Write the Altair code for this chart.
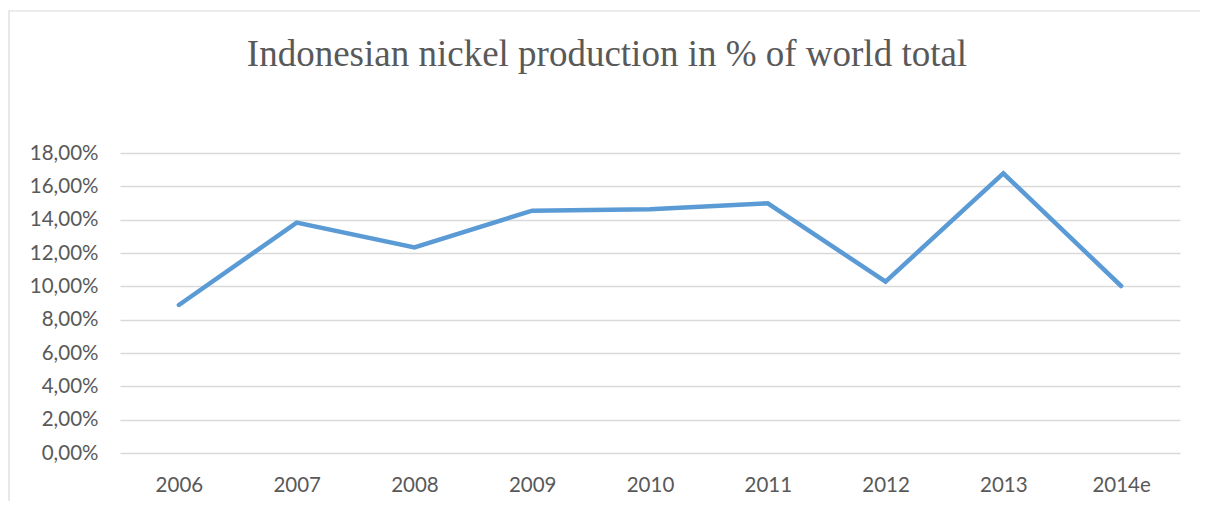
import altair as alt
import pandas as pd

years = ["2006", "2007", "2008", "2009", "2010", "2011", "2012", "2013", "2014e"]
shares = [0.0888, 0.1382, 0.1234, 0.1454, 0.1462, 0.1498, 0.1028, 0.1678, 0.1002]
y_ticks = [0, 0.02, 0.04, 0.06, 0.08, 0.10, 0.12, 0.14, 0.16, 0.18]

df = pd.DataFrame({"year": years, "share": shares})

line = alt.Chart(df).mark_line(
    color="#5b9bd5", strokeWidth=4.5, strokeCap="round", strokeJoin="miter"
).encode(
    x=alt.X("year:N", sort=years, title=None,
            scale=alt.Scale(type="point", padding=0.5),
            axis=alt.Axis(labelAngle=0, grid=False, domain=False, ticks=False,
                          labelPadding=22, labelFont="Lato", labelFontSize=20.5,
                          labelColor="#595959")),
    y=alt.Y("share:Q", title=None,
            scale=alt.Scale(domain=[0, 0.18], nice=False),
            axis=alt.Axis(values=y_ticks, domain=False, ticks=False,
                          labelPadding=22, labelFont="Lato", labelFontSize=20.5,
                          labelColor="#595959", gridColor="#d9d9d9", gridWidth=1.5,
                          labelExpr="replace(format(datum.value, '.2%'), '.', ',')")),
)

frame = alt.Chart(df).mark_rect(fill=None, stroke="#d9d9d9", strokeWidth=1.2).encode(
    x=alt.value(-111), x2=alt.value(1200), y=alt.value(-142), y2=alt.value(600)
).transform_filter("datum.year == '2006'")

chart = alt.layer(frame, line).properties(
    width=1060, height=300,
    autosize=alt.AutoSizeParams(type="none"),
    padding={"left": 112, "top": 145, "right": 20, "bottom": 48},
    title=alt.TitleParams("Indonesian nickel production in % of world total",
                          font="Liberation Serif", fontSize=37, fontWeight="normal",
                          color="#595959", anchor="middle", frame="group",
                          baseline="alphabetic", offset=-93, dx=-43),
).configure_view(stroke=None)

chart.save("out.html", embed_options={"renderer": "svg", "actions": False})
